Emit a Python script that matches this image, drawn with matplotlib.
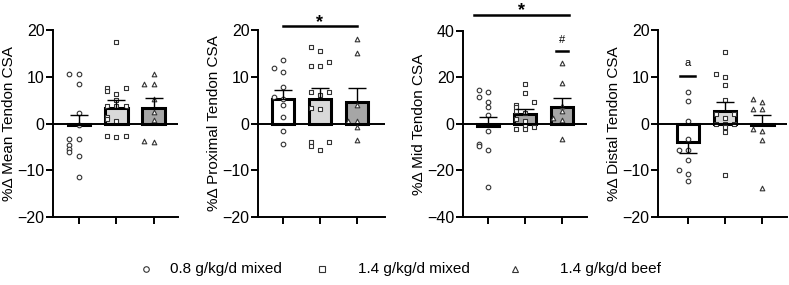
import matplotlib
matplotlib.use("Agg")
import matplotlib.pyplot as plt
from matplotlib.lines import Line2D
import numpy as np

plt.rcParams['font.family'] = ['Liberation Sans', 'DejaVu Sans']

groups = ["0.8 g/kg/d mixed", "1.4 g/kg/d mixed", "1.4 g/kg/d beef"]
markers = ["o", "s", "^"]

ylabels = ["%Δ Mean Tendon CSA", "%Δ Proximal Tendon CSA",
           "%Δ Mid Tendon CSA", "%Δ Distal Tendon CSA"]

# bar means, SEM and direction the error bar was drawn (1 up, -1 down)
means = [[-0.3, 3.3, 3.4],
         [5.2, 5.2, 4.6],
         [-0.8, 4.4, 7.4],
         [-4.0, 2.7, -0.3]]
sems = [[2.2, 1.8, 2.1],
        [2.0, 2.3, 2.9],
        [3.6, 2.0, 3.9],
        [2.4, 1.9, 2.2]]
err_dir = [[1, 1, 1],
           [1, 1, 1],
           [1, 1, 1],
           [-1, 1, 1]]

# individual values
mean_pts = [[10.5, 10.5, 8.5, 2.2, -0.3, -3.4, -3.4, -4.6, -5.4, -6.2, -7.0, -11.5],
            [17.4, 7.5, 7.6, 6.9, 6.4, 5.1, 3.7, 3.7, 3.7, 1.5, 1.0, 0.5, -2.6, -2.7, -2.9],
            [10.5, 8.5, 8.5, 5.3, 2.4, 0.8, -3.7, -4.0]]
prox_pts = [[13.5, 11.8, 11.0, 7.8, 5.7, 5.3, 3.9, 1.4, -1.5, -4.4],
            [16.4, 15.5, 13.2, 12.3, 12.3, 6.7, 6.7, 6.2, 3.4, 3.2, -4.0, -4.0, -4.9, -5.6],
            [18.0, 15.0, 3.9, 0.6, 0.6, -0.8, -3.5]]
mid_pts = [[14.6, 13.6, 11.4, 9.6, 7.4, 3.9, -3.0, -8.8, -9.6, -11.0, -27.0],
           [17.3, 13.3, 9.3, 8.1, 7.4, 5.7, 4.7, 2.0, 1.3, -0.9, -1.3, -2.3, -2.3],
           [26.0, 17.7, 7.8, 5.7, 2.7, 1.6, -6.5]]
dist_pts = [[6.7, 4.9, 0.6, -3.4, -5.7, -5.7, -7.8, -10.0, -10.7, -12.3],
            [15.3, 10.7, 10.0, 8.2, 5.1, 2.1, 2.0, 1.2, 0.0, 0.0, 0.0, -0.8, -1.9, -11.0],
            [5.3, 4.6, 3.2, 3.2, -1.1, -1.5, -3.5, -13.9]]
points = [mean_pts, prox_pts, mid_pts, dist_pts]

ylims = [(-20, 20), (-20, 20), (-40, 40), (-20, 20)]
yticks = [[-20, -10, 0, 10, 20], [-20, -10, 0, 10, 20],
          [-40, -20, 0, 20, 40], [-20, -10, 0, 10, 20]]
xlims = [(-0.69, 2.64), (-0.67, 2.76), (-0.68, 2.67), (-0.8, 2.67)]
bar_colors = [["white", "#d9d9d9", "#a6a6a6"],
              ["white", "#d9d9d9", "#a6a6a6"],
              ["white", "#a6a6a6", "#a6a6a6"],
              ["white", "#d9d9d9", "#a6a6a6"]]

# axes boxes in figure fractions [left, bottom, width, height]
boxes = [[0.0672, 0.2386, 0.158, 0.656],
         [0.327, 0.2386, 0.161, 0.656],
         [0.5868, 0.2386, 0.157, 0.653],
         [0.834, 0.2386, 0.164, 0.656]]


def spread(vals, tol, step=0.25):
    # simple swarm: points closer than tol go centre, left, right
    vals = np.asarray(vals, dtype=float)
    order = np.argsort(vals)
    offs = np.zeros(len(vals))
    placed = []
    for i in order:
        near = [j for j in placed if abs(vals[j] - vals[i]) < tol]
        k = len(near) % 3
        offs[i] = [0, -step, step][k]
        placed.append(i)
    return offs


fig = plt.figure(figsize=(7.89, 2.85), dpi=100)
axes = []
for p in range(4):
    ax = fig.add_axes(boxes[p])
    axes.append(ax)
    x = np.arange(3)
    ax.bar(x, means[p], width=0.6, color=bar_colors[p], edgecolor="black",
           linewidth=2.2, zorder=2)
    for g in range(3):
        lo = sems[p][g] if err_dir[p][g] < 0 else 0
        hi = sems[p][g] if err_dir[p][g] > 0 else 0
        ax.errorbar(g, means[p][g], yerr=[[lo], [hi]], fmt="none",
                    ecolor="black", elinewidth=1.0, capsize=6.5, capthick=1.0,
                    zorder=4)
        span = ylims[p][1] - ylims[p][0]
        offs = spread(points[p][g], tol=span * 0.024)
        ax.scatter(g + offs, points[p][g], marker=markers[g], s=11,
                   facecolors="white", edgecolors="#333333", linewidths=0.8,
                   zorder=3)
    ax.axhline(0, color="black", lw=1.4, zorder=5)
    ax.set_xlim(*xlims[p])
    ax.set_ylim(*ylims[p])
    ax.set_yticks(yticks[p])
    ax.set_xticks(x)
    ax.set_xticklabels([])
    ax.spines["top"].set_visible(False)
    ax.spines["right"].set_visible(False)
    ax.spines["left"].set_linewidth(1.4)
    ax.spines["bottom"].set_linewidth(1.4)
    ax.tick_params(axis="both", width=1.4, length=5, labelsize=11.5, pad=1)
    ax.set_ylabel(ylabels[p], fontsize=11, labelpad=1)

# significance marks
ax = axes[1]
ax.plot([0, 2], [20.8, 20.8], color="black", lw=1.8, clip_on=False)
ax.text(1, 21.6, "*", ha="center", va="center", fontsize=13, fontweight="bold")
ax = axes[2]
ax.plot([-0.39, 2.18], [46.9, 46.9], color="black", lw=1.8, clip_on=False)
ax.text(0.9, 48.6, "*", ha="center", va="center", fontsize=13, fontweight="bold")
ax.plot([1.84, 2.16], [31.4, 31.4], color="black", lw=1.8)
ax.text(2, 34.0, "#", ha="center", va="bottom", fontsize=8)
ax = axes[3]
ax.plot([-0.2, 0.2], [10.1, 10.1], color="black", lw=1.8)
ax.text(0, 11.8, "a", ha="center", va="bottom", fontsize=8)

# legend row at the bottom
leg_y = 1 - 269 / 285
marker_x = [146 / 789, 322 / 789, 515 / 789]
text_x = [170 / 789, 358 / 789, 560 / 789]
for m, lab, mx, tx in zip(markers, groups, marker_x, text_x):
    fig.add_artist(Line2D([mx], [leg_y], marker=m, linestyle="none",
                          markersize=4, markerfacecolor="white",
                          markeredgecolor="#333333", markeredgewidth=0.8,
                          transform=fig.transFigure))
    fig.text(tx, leg_y, lab, ha="left", va="center", fontsize=11)

fig.savefig("out.png", dpi=100)
